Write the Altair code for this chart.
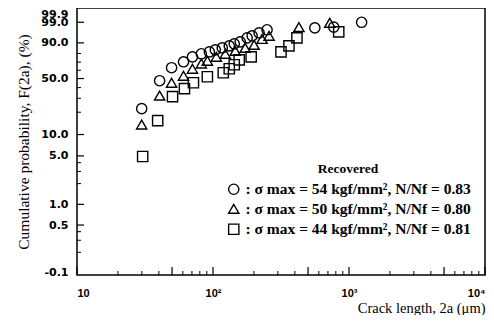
import math
import altair as alt
import pandas as pd

# ---- data (crack length in µm, cumulative probability in %) ----
series_names = [
    ": \u03c3 max = 54 kgf/mm\u00b2, N/Nf = 0.83",
    ": \u03c3 max = 50 kgf/mm\u00b2, N/Nf = 0.80",
    ": \u03c3 max = 44 kgf/mm\u00b2, N/Nf = 0.81",
]
c_x = [29.9, 40.5, 49.6, 60.7, 70.6, 82.1, 94.0, 104.0, 117.0, 131.7, 143.3, 158.5, 178.3, 194.0, 218.3, 249.8, 560.8, 772.4, 1238]
c_f = [22.3, 47.5, 63.1, 70.4, 76.3, 79.7, 81.8, 83.8, 85.7, 87.5, 89.2, 90.8, 93.4, 94.6, 96.0, 97.2, 97.8, 98.0, 99.0]
t_x = [29.9, 40.5, 49.6, 60.7, 70.6, 82.1, 90.9, 105.8, 123.1, 145.7, 172.4, 200.6, 229.6, 258.4, 428.3, 721.9]
t_f = [13.7, 32.3, 45.2, 53.3, 61.8, 68.3, 71.6, 76.3, 79.7, 82.8, 85.7, 88.4, 92.8, 94.6, 98.0, 98.9]
s_x = [30.4, 39.2, 50.4, 61.7, 71.8, 90.9, 119.0, 131.7, 143.3, 155.8, 190.8, 316.2, 361.9, 414.1, 840.4]
s_f = [4.9, 15.5, 31.4, 38.9, 45.2, 52.1, 56.9, 61.8, 66.8, 72.8, 76.3, 81.8, 87.5, 93.4, 96.4]

y_tick_values = [99.9, 99.0, 90.0, 50.0, 10.0, 5.0, 1.0, 0.5, 0.1]
y_tick_labels = ["99.9", "99.0", "90.0", "50.0", "10.0", "5.0", "1.0", "0.5", "-0.1"]
y_major_ticks = [99.0, 90.0, 50.0, 10.0, 5.0, 1.0, 0.5]
y_minor_ticks = [80, 70, 60, 40, 30, 20, 4, 3, 2, 0.4, 0.3, 0.2]
x_tick_values = [10, 100, 1000, 10000]
x_tick_labels = ["10", "10\u00b2", "10\u00b3", "10\u2074"]
x_major_ticks = [10, 50, 100, 500, 1000, 5000, 10000]
x_minor_ticks = [m * 10 ** e for e in (1, 2, 3) for m in (2, 3, 4, 6, 7, 8, 9)]

# ---- build tables ----
rows = []
for name, xs, fs in zip(series_names, [c_x, t_x, s_x], [c_f, t_f, s_f]):
    for x, f in zip(xs, fs):
        rows.append({"x": x, "F": f, "series": name})
df = pd.DataFrame(rows)

weib = "log(-log(1 - datum.F / 100))"


def wt(p):
    return math.log(-math.log(1 - p / 100))


y_vals = [wt(p) for p in y_tick_values]
expr = "''"
for v, lab in reversed(list(zip(y_vals, y_tick_labels))):
    expr = f"abs(datum.value - ({v:.6f})) < 0.001 ? '{lab}' : ({expr})"
x_expr = "''"
for v, lab in reversed(list(zip(x_tick_values, x_tick_labels))):
    x_expr = f"abs(datum.value - {v}) < 0.5 ? '{lab}' : ({x_expr})"

W, H = 408, 267
xscale = alt.Scale(type="log", domain=[10, 10000], nice=False)
yscale = alt.Scale(domain=[-6.977, 2.007], nice=False, zero=False)

xaxis = alt.Axis(
    values=x_tick_values, labelExpr=x_expr, ticks=False, domain=False, grid=False,
    labelFont="Liberation Sans", labelFontWeight="bold", labelFontSize=11,
    labelColor="black", labelPadding=12, labelFlush=True,
    title="Crack length, 2a (\u03bcm)", titleFont="Liberation Serif",
    titleFontWeight="normal", titleFontSize=14.5, titleColor="black",
    titleAnchor="end", titleY=37, titleBaseline="alphabetic")
yaxis = alt.Axis(
    values=y_vals, labelExpr=expr, ticks=False, domain=False, grid=False,
    labelFont="DejaVu Sans", labelFontWeight="bold", labelFontSize=11,
    labelColor="black", labelPadding=9, labelFlush=False, labelOverlap=False,
    labelOffset={"condition": {"test": "datum.value > 1.9", "value": 4}, "value": 0},
    title="Cumulative probability, F(2a), (%)", titleFont="Liberation Serif",
    titleFontWeight="normal", titleFontSize=15.5, titleColor="black", titlePadding=9)

points = alt.Chart(df).transform_calculate(yt=weib).mark_point(
    filled=False, color="black", strokeWidth=1.4, size=105, opacity=1
).encode(
    x=alt.X("x:Q", scale=xscale, axis=xaxis),
    y=alt.Y("yt:Q", scale=yscale, axis=yaxis),
    shape=alt.Shape("series:N", scale=alt.Scale(
        domain=series_names, range=["circle", "triangle-up", "square"]),
        legend=alt.Legend(
            title="Recovered", orient="none", legendX=149, legendY=154,
            titleFont="Liberation Serif", titleFontSize=13.5, titleFontWeight="bold",
            titleColor="black", titleAnchor="middle", titlePadding=6,
            labelFont="Liberation Serif", labelFontSize=15.5, labelFontWeight="bold",
            labelColor="black", labelLimit=400, labelOffset=4,
            symbolSize=105, symbolStrokeWidth=1.4, symbolStrokeColor="black",
            symbolFillColor="transparent", rowPadding=2.5, padding=0)),
)

ydf_major = pd.DataFrame({"F": y_major_ticks})
ydf_minor = pd.DataFrame({"F": y_minor_ticks})
xdf_major = pd.DataFrame({"x": x_major_ticks})
xdf_minor = pd.DataFrame({"x": x_minor_ticks})

ytick_major = alt.Chart(ydf_major).transform_calculate(yt=weib).mark_rule(
    color="black", strokeWidth=1.2).encode(
    y=alt.Y("yt:Q", scale=yscale, axis=yaxis), x=alt.value(0), x2=alt.value(7))
ytick_minor = alt.Chart(ydf_minor).transform_calculate(yt=weib).mark_rule(
    color="black", strokeWidth=1.0).encode(
    y=alt.Y("yt:Q", scale=yscale, axis=yaxis), x=alt.value(0), x2=alt.value(4))
xtick_major = alt.Chart(xdf_major).mark_rule(color="black", strokeWidth=1.2).encode(
    x=alt.X("x:Q", scale=xscale, axis=xaxis), y=alt.value(H), y2=alt.value(H - 8))
xtick_minor = alt.Chart(xdf_minor).mark_rule(color="black", strokeWidth=1.0).encode(
    x=alt.X("x:Q", scale=xscale, axis=xaxis), y=alt.value(H), y2=alt.value(H - 4))

chart = alt.layer(points, ytick_major, ytick_minor, xtick_major, xtick_minor).properties(
    width=W, height=H,
    autosize=alt.AutoSizeParams(type="none"),
    padding={"left": 69, "top": 0, "right": 1, "bottom": 40},
    background="white",
).configure_view(stroke="black", strokeWidth=1.5)

chart.save("out.html", embed_options={"renderer": "svg", "actions": False})
